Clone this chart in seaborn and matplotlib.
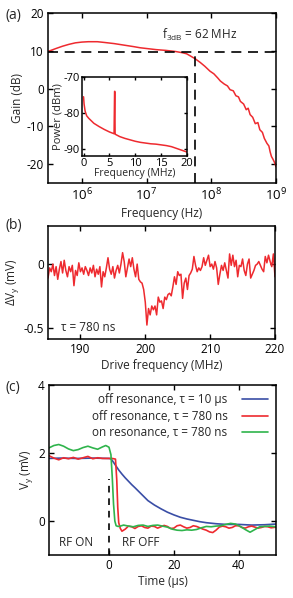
import numpy as np
import matplotlib
matplotlib.use("Agg")
import matplotlib.pyplot as plt
import seaborn as sns

# ---------------- data ----------------
# (a) gain vs frequency (log10 Hz, dB)
gain_logf = [5.49, 5.6, 5.7, 5.8, 5.9, 6.0, 6.1, 6.24, 6.35, 6.5, 6.65, 6.8, 6.9, 7.0,
             7.15, 7.3, 7.45, 7.55, 7.62, 7.68, 7.75, 7.83, 7.9, 7.98, 8.04, 8.1, 8.14,
             8.2, 8.25, 8.29, 8.34, 8.38, 8.42, 8.45, 8.5, 8.54, 8.57, 8.6, 8.64, 8.68,
             8.72, 8.75, 8.79, 8.82, 8.86, 8.89, 8.91, 8.93, 8.95, 8.97, 8.99, 9.0]
gain_db = [9.9, 10.6, 11.2, 11.7, 12.1, 12.3, 12.4, 12.4, 12.2, 11.9, 11.5, 11.1, 10.8, 10.6,
           10.3, 10.1, 9.8, 9.5, 9.2, 8.6, 7.9, 6.9, 5.9, 4.6, 3.9, 2.8, 2.0,
           1.2, 0.7, -0.3, -0.6, -1.9, -2.2, -3.4, -4.1, -5.6, -5.2, -6.9, -7.6, -9.3,
           -9.0, -10.9, -11.6, -13.2, -14.5, -15.2, -16.8, -18.0, -18.6, -19.3, -20.1, -20.7]
f3db_hz = 5.7e7
gain_3db = 9.7

# (a) inset: power spectrum (MHz, dBm)
spec_f = [0.0, 0.1, 0.3, 0.6, 1.0, 1.5, 2.0, 3.0, 4.0, 5.0, 5.9, 6.0, 6.05, 6.1, 6.2,
          7.0, 8.0, 9.0, 10.0, 11.0, 12.0, 13.0, 14.0, 15.0, 16.0, 17.0, 18.0, 19.0, 20.0]
spec_p = [-75.5, -77.5, -79.5, -80.8, -81.5, -82.2, -82.9, -83.8, -84.6, -85.3, -85.8, -74.0, -74.0, -85.9, -86.0,
          -86.6, -87.1, -87.5, -87.9, -88.2, -88.4, -88.6, -88.7, -88.9, -89.1, -89.4, -89.9, -90.4, -90.9]

# (b) delta Vy vs drive frequency (185..220 MHz, uniform sweep)
dvy = [-0.11, -0.03, -0.06, 0.00, -0.09, -0.02, -0.12, -0.04, 0.02, -0.07, 0.03, -0.05,
       -0.10, -0.02, -0.06, -0.01, -0.17, -0.05, -0.09, 0.01, -0.06, -0.03, -0.08, -0.02,
       -0.05, -0.09, -0.03, -0.07, -0.01, -0.10, -0.04, -0.08, -0.02, -0.18, -0.06, -0.10,
       -0.03, 0.05, -0.04, -0.08, -0.02, -0.11, -0.05, -0.01, -0.07, 0.00, 0.09, 0.02,
       -0.10, -0.03, 0.04, -0.02, 0.05, -0.04, -0.10, 0.00, -0.12, -0.14, -0.15, -0.20,
       -0.30, -0.48, -0.35, -0.40, -0.33, -0.36, -0.33, -0.40, -0.26, -0.30, -0.29, -0.35,
       -0.26, -0.28, -0.24, -0.23, -0.25, -0.18, -0.10, -0.16, -0.06, -0.09, -0.08, -0.27,
       -0.15, -0.11, -0.20, -0.09, -0.07, -0.04, 0.06, -0.01, -0.06, -0.03, -0.05, -0.02,
       0.05, -0.01, 0.03, 0.07, -0.02, 0.00, -0.04, 0.02, -0.03, -0.16, -0.08, -0.01,
       -0.05, 0.01, -0.05, -0.11, 0.08, -0.01, 0.07, -0.02, 0.03, -0.10, -0.01, -0.02,
       0.04, -0.05, -0.09, 0.00, 0.04, -0.11, -0.08, -0.05, -0.01, 0.00, 0.02, -0.01,
       -0.04, -0.06, 0.06, 0.01, 0.07, 0.02, -0.02, 0.08, -0.10]
drive_start, drive_stop = 185.0, 220.0

# (c) time traces (us, mV)
t_blue = [-18.5, -15, -10, -5, 0, 0.6, 1, 2, 3, 4, 5, 6, 7, 8, 10, 12, 14, 16, 18, 20,
          22, 24, 26, 28, 30, 33, 36, 40, 44, 48, 51.5]
v_blue = [1.84, 1.85, 1.84, 1.85, 1.84, 1.83, 1.78, 1.64, 1.50, 1.38, 1.27, 1.17, 1.07, 0.98, 0.79, 0.60,
          0.47, 0.36, 0.26, 0.18, 0.11, 0.06, 0.02, -0.02, -0.05, -0.08, -0.10, -0.10, -0.12, -0.11, -0.09]

t_red = [-18.5, -17, -15.5, -14, -12.5, -11, -9.5, -8, -6.5, -5, -3.5, -2, -0.5, 1.0, 2.0,
         2.4, 2.7, 3.0, 3.5, 4, 5, 6, 7, 8, 9, 10, 11, 12, 13, 14, 15, 16, 17, 18, 19,
         20, 21, 22, 23, 24, 25, 26, 27, 28, 29, 30, 31, 32, 33, 34, 35, 36, 37, 38, 39,
         40, 41, 42, 43, 44, 45, 46, 47, 48, 49, 50, 51.5]
v_red = [1.92, 1.85, 1.80, 1.86, 1.83, 1.87, 1.82, 1.86, 1.90, 1.83, 1.86, 1.84, 1.84, 1.84, 1.82,
         1.2, 0.4, -0.05, -0.22, -0.30, -0.24, -0.15, -0.17, -0.22, -0.16, -0.14, -0.19, -0.21, -0.15, -0.16, -0.21, -0.17, -0.13, -0.16, -0.22,
         -0.21, -0.14, -0.12, -0.17, -0.21, -0.19, -0.14, -0.16, -0.20, -0.24, -0.27, -0.32, -0.34, -0.27, -0.18, -0.15, -0.17, -0.21, -0.19, -0.14,
         -0.14, -0.19, -0.21, -0.17, -0.15, -0.18, -0.21, -0.19, -0.16, -0.17, -0.20, -0.18]

t_green = [-18.5, -17, -15.5, -14, -12.5, -11, -9.5, -8, -6.5, -5, -3.5, -2, -1, 0, 0.6,
           1.0, 1.4, 1.8, 2.2, 2.8, 3.5, 4.5, 6, 7.5, 9, 10.5, 12, 13.5, 15, 16.5, 18,
           19.5, 21, 22.5, 24, 25.5, 27, 28.5, 30, 31.5, 33, 34.5, 36, 37.5, 39, 40.5, 42,
           43.5, 45, 46.5, 48, 49.5, 51.5]
v_green = [2.15, 2.22, 2.25, 2.20, 2.12, 2.07, 2.10, 2.16, 2.20, 2.15, 2.11, 2.18, 2.22, 2.17, 1.95,
           1.3, 0.5, 0.0, -0.14, -0.16, -0.15, -0.12, -0.15, -0.17, -0.13, -0.12, -0.16, -0.13, -0.12, -0.15, -0.18,
           -0.24, -0.27, -0.28, -0.26, -0.27, -0.25, -0.20, -0.16, -0.17, -0.15, -0.14, -0.10, -0.07, -0.09, -0.16, -0.25,
           -0.33, -0.25, -0.17, -0.16, -0.15, -0.17]

legend_labels = ["off resonance, \u03c4 = 10 \u00b5s",
                 "off resonance, \u03c4 = 780 ns",
                 "on resonance, \u03c4 = 780 ns"]

# ---------------- style ----------------
sns.set_style("ticks")
FONT = ["Open Sans", "DejaVu Sans"]
plt.rcParams["font.family"] = FONT
plt.rcParams["mathtext.fontset"] = "custom"
plt.rcParams["mathtext.rm"] = "Open Sans"
plt.rcParams["mathtext.it"] = "Open Sans:italic"
plt.rcParams["axes.unicode_minus"] = False
plt.rcParams["axes.linewidth"] = 1.1
plt.rcParams["font.size"] = 8

RED = "#ee2a2f"
BLUE = "#3a4ea6"
GREEN = "#2fb44c"

W, H = 293, 598
fig = plt.figure(figsize=(W / 100, H / 100), dpi=100)


def ax_px(x0, y0, x1, y1):
    return fig.add_axes([x0 / W, 1 - y1 / H, (x1 - x0) / W, (y1 - y0) / H])


def style(ax, size=8.5):
    ax.tick_params(direction="in", top=True, right=True, length=3.5, width=1.0,
                   labelsize=size, pad=3, colors="black")
    for s in ax.spines.values():
        s.set_visible(True)
        s.set_color("black")


# ---------------- (a) ----------------
axa = ax_px(48, 13, 276, 183)
sns.lineplot(x=10 ** np.array(gain_logf), y=gain_db, ax=axa, color=RED, lw=1.1,
             estimator=None, sort=False)
axa.set_xscale("log")
axa.set_xlim(3e5, 1e9)
axa.set_ylim(-25, 20)
axa.set_xticks([1e6, 1e7, 1e8, 1e9])
axa.minorticks_off()
axa.set_yticks([20, 10, 0, -10, -20])
axa.axhline(gain_3db, color="black", lw=1.2, dashes=(6, 4))
axa.plot([f3db_hz, f3db_hz], [-25, gain_3db], color="black", lw=1.2, dashes=(6, 4))
axa.text(1.75e7, 14.3, r"f$_{\mathregular{3dB}}$ = 62 MHz", fontsize=8.5, ha="left", va="center")
axa.set_xlabel("Frequency (Hz)", fontsize=8.5, labelpad=2)
axa.set_ylabel("Gain (dB)", fontsize=8.5, labelpad=2)
style(axa)
axa.tick_params(axis="x", labelsize=9.5)
fig.text(5 / W, 1 - 15 / H, "(a)", fontsize=10, va="center", ha="left")

# inset
axi = ax_px(82, 77, 187, 156)
sns.lineplot(x=spec_f, y=spec_p, ax=axi, color=RED, lw=1.1, estimator=None, sort=False)
axi.set_xlim(-0.3, 20)
axi.set_ylim(-92, -70)
axi.set_xticks([0, 5, 10, 15, 20])
axi.set_yticks([-70, -80, -90])
axi.set_xlabel("Frequency (MHz)", fontsize=7.5, labelpad=-0.5)
axi.set_ylabel("Power (dBm)", fontsize=8, labelpad=0)
style(axi, 8)
axi.tick_params(length=2.5, pad=1.5)

# ---------------- (b) ----------------
axb = ax_px(48, 226, 275, 339)
drive_f = np.linspace(drive_start, drive_stop, len(dvy))
sns.lineplot(x=drive_f, y=dvy, ax=axb, color=RED, lw=1.1, estimator=None, sort=False)
axb.set_xlim(185, 220)
axb.set_ylim(-0.59, 0.3)
axb.set_xticks([190, 200, 210, 220])
axb.set_yticks([0, -0.5])
axb.set_yticklabels(["0", "-0.5"])
axb.text(187, -0.5, "\u03c4 = 780 ns", fontsize=8.5, va="center", ha="left")
axb.set_xlabel("Drive frequency (MHz)", fontsize=8.5, labelpad=2)
axb.set_ylabel(r"$\mathregular{\Delta V_y}$ (mV)", fontsize=8.5, labelpad=2)
style(axb)
fig.text(5 / W, 1 - 226 / H, "(b)", fontsize=10, va="center", ha="left")

# ---------------- (c) ----------------
axc = ax_px(49, 385, 276, 555)
sns.lineplot(x=t_blue, y=v_blue, ax=axc, color=BLUE, lw=1.2, estimator=None, sort=False,
             label=legend_labels[0])
sns.lineplot(x=t_red, y=v_red, ax=axc, color=RED, lw=1.2, estimator=None, sort=False,
             label=legend_labels[1])
sns.lineplot(x=t_green, y=v_green, ax=axc, color=GREEN, lw=1.2, estimator=None, sort=False,
             label=legend_labels[2])
axc.plot([0, 0], [-1, 1.25], color="black", lw=1.2, dashes=(4, 3.5))
axc.set_xlim(-18.5, 51.5)
axc.set_ylim(-1, 4)
axc.set_xticks([0, 20, 40])
axc.set_yticks([0, 2, 4])
axc.text(-15.5, -0.63, "RF ON", fontsize=8.5, va="center", ha="left")
axc.text(4, -0.63, "RF OFF", fontsize=8.5, va="center", ha="left")
axc.set_xlabel("Time (\u00b5s)", fontsize=8.5, labelpad=2)
axc.set_ylabel(r"V$_\mathregular{y}$ (mV)", fontsize=8.5, labelpad=2)
leg = axc.legend(loc="upper right", frameon=False, markerfirst=False, fontsize=8.5,
                 handlelength=2.2, handletextpad=1.2, labelspacing=0.3,
                 borderaxespad=0.3, bbox_to_anchor=(1.0, 1.0))
style(axc)
fig.text(5 / W, 1 - 387 / H, "(c)", fontsize=10, va="center", ha="left")

fig.savefig("out.png", dpi=100)
